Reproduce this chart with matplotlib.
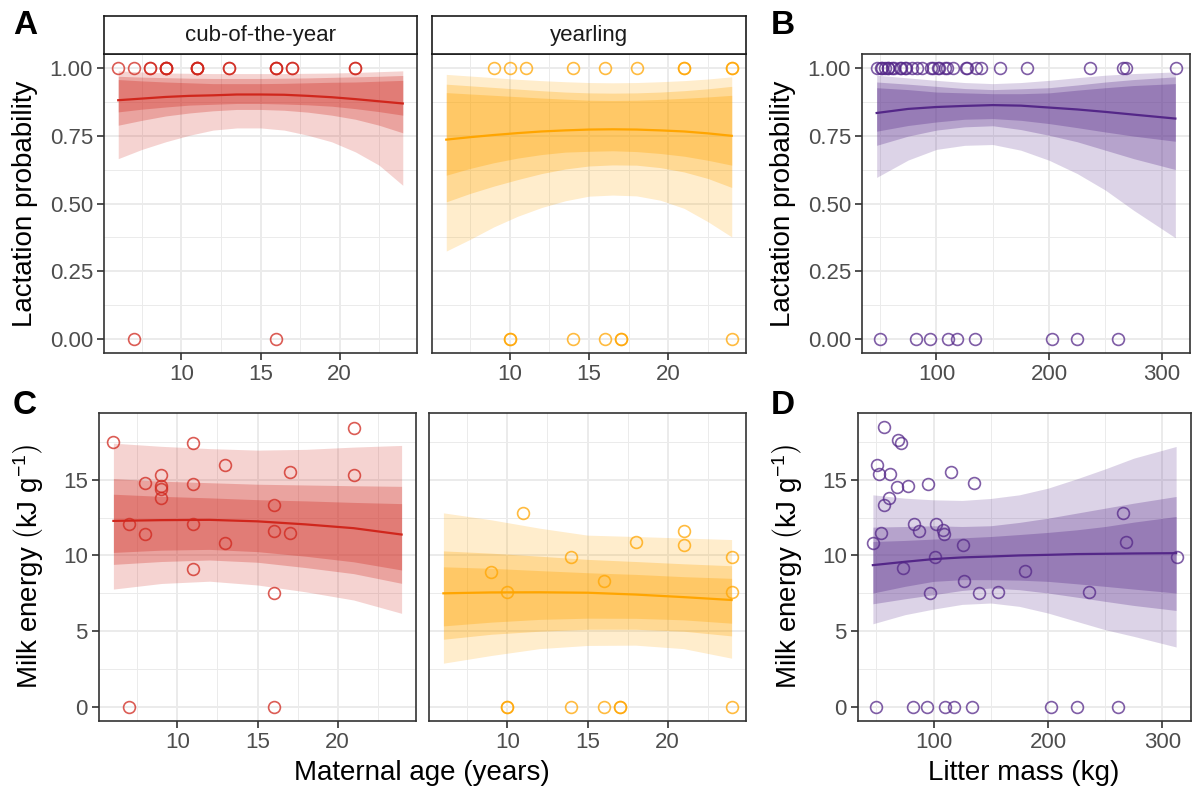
import numpy as np
import matplotlib
matplotlib.use('Agg')
import matplotlib.pyplot as plt

plt.rcParams['font.family'] = ['Liberation Sans', 'DejaVu Sans']
plt.rcParams['mathtext.fontset'] = 'custom'
plt.rcParams['mathtext.rm'] = 'Liberation Sans'
plt.rcParams['mathtext.it'] = 'Liberation Sans:italic'
plt.rcParams['mathtext.bf'] = 'Liberation Sans:bold'

# ---- raw observations ----
# cub-of-the-year litters: lactating mothers (age, milk energy) and non-lactating ones
cub_age_pos = [6, 7, 8, 8, 9, 9, 9, 9, 11, 11, 11, 11, 13, 13, 16, 16, 16, 17, 17, 21, 21]
cub_energy = [17.5, 12.1, 14.8, 11.4, 15.3, 14.6, 14.4, 13.8, 17.4, 14.7, 12.1, 9.1,
              16.0, 10.8, 13.3, 11.6, 7.5, 15.5, 11.5, 18.4, 15.3]
cub_age_zero = [7, 16]

# yearling litters
yr_age_pos = [9, 10, 11, 14, 16, 18, 21, 21, 24, 24]
yr_energy = [8.9, 7.6, 12.8, 9.9, 8.3, 10.9, 11.6, 10.7, 9.9, 7.6]
yr_age_zero = [10, 10, 14, 16, 17, 17, 24]

# litter mass (kg)
mass_pos = [47, 51, 52, 54, 57, 57, 61, 62, 68, 69, 72, 73, 78, 83, 87, 95,
            97, 101, 102, 108, 109, 115, 126, 127, 135, 140, 156, 180, 236, 266, 268, 313]
mass_energy = [10.8, 16.0, 15.4, 11.5, 13.3, 18.5, 13.8, 15.4, 14.5, 17.6, 17.4, 9.2,
               14.6, 12.1, 11.6, 14.7, 7.5, 9.9, 12.1, 11.7, 11.4, 15.5, 10.7, 8.3,
               14.8, 7.5, 7.6, 9.0, 7.6, 12.8, 10.9, 9.9]
mass_zero = [50, 82, 94, 110, 118, 134, 203, 225, 261]

# ---- model fits (median, 95/80/50 % intervals) ----
age_grid_p = [6, 7.5, 9, 10.5, 12, 13.5, 15, 16.5, 18, 19.5, 21, 22.5, 24]

cub_p_fit = [0.880, 0.886, 0.892, 0.896, 0.898, 0.901, 0.901, 0.900, 0.896, 0.891, 0.884, 0.876, 0.868]
cub_p_lo95 = [0.665, 0.699, 0.727, 0.751, 0.770, 0.778, 0.778, 0.770, 0.751, 0.727, 0.690, 0.641, 0.567]
cub_p_hi95 = [0.988, 0.984, 0.980, 0.979, 0.978, 0.978, 0.978, 0.978, 0.979, 0.980, 0.982, 0.985, 0.988]
cub_p_lo80 = [0.788, 0.806, 0.822, 0.833, 0.841, 0.846, 0.846, 0.843, 0.836, 0.825, 0.810, 0.788, 0.760]
cub_p_hi80 = [0.968, 0.965, 0.963, 0.961, 0.960, 0.960, 0.960, 0.961, 0.962, 0.964, 0.966, 0.968, 0.971]
cub_p_lo50 = [0.837, 0.847, 0.855, 0.862, 0.865, 0.868, 0.868, 0.866, 0.863, 0.858, 0.849, 0.838, 0.825]
cub_p_hi50 = [0.956, 0.951, 0.947, 0.944, 0.941, 0.941, 0.941, 0.942, 0.944, 0.946, 0.947, 0.950, 0.953]

yr_p_fit = [0.735, 0.744, 0.752, 0.759, 0.765, 0.769, 0.772, 0.773, 0.772, 0.769, 0.765, 0.758, 0.749]
yr_p_lo95 = [0.325, 0.368, 0.414, 0.453, 0.485, 0.510, 0.527, 0.531, 0.528, 0.512, 0.482, 0.433, 0.377]
yr_p_hi95 = [0.975, 0.969, 0.963, 0.957, 0.952, 0.948, 0.945, 0.944, 0.945, 0.948, 0.952, 0.958, 0.966]
yr_p_lo80 = [0.506, 0.537, 0.564, 0.588, 0.610, 0.627, 0.638, 0.642, 0.641, 0.632, 0.616, 0.592, 0.559]
yr_p_hi80 = [0.939, 0.933, 0.927, 0.921, 0.915, 0.910, 0.907, 0.906, 0.907, 0.910, 0.915, 0.922, 0.931]
yr_p_lo50 = [0.604, 0.629, 0.650, 0.667, 0.680, 0.689, 0.692, 0.694, 0.691, 0.684, 0.674, 0.659, 0.641]
yr_p_hi50 = [0.908, 0.903, 0.898, 0.893, 0.888, 0.884, 0.880, 0.879, 0.880, 0.883, 0.887, 0.892, 0.898]

age_grid_e = [6, 9, 12, 15, 18, 21, 24]

cub_e_fit = [12.28, 12.33, 12.35, 12.25, 12.05, 11.80, 11.38]
cub_e_lo95 = [7.78, 8.15, 8.30, 8.05, 7.60, 7.06, 6.18]
cub_e_hi95 = [17.41, 17.20, 17.05, 16.95, 17.00, 17.15, 17.26]
cub_e_lo80 = [9.41, 9.60, 9.70, 9.55, 9.20, 8.80, 8.16]
cub_e_hi80 = [15.07, 14.90, 14.80, 14.70, 14.65, 14.60, 14.56]
cub_e_lo50 = [10.20, 10.35, 10.40, 10.25, 9.95, 9.58, 9.04]
cub_e_hi50 = [14.04, 13.90, 13.80, 13.68, 13.60, 13.50, 13.42]

yr_e_fit = [7.50, 7.56, 7.57, 7.54, 7.42, 7.25, 7.06]
yr_e_lo95 = [2.89, 3.40, 3.85, 4.06, 4.08, 3.85, 3.22]
yr_e_hi95 = [12.81, 12.35, 11.80, 11.34, 11.25, 11.15, 11.05]
yr_e_lo80 = [4.47, 4.80, 5.00, 5.13, 5.13, 5.00, 4.69]
yr_e_hi80 = [10.30, 10.15, 9.95, 9.74, 9.60, 9.45, 9.32]
yr_e_lo50 = [5.35, 5.60, 5.78, 5.86, 5.85, 5.75, 5.53]
yr_e_hi50 = [9.25, 9.15, 9.00, 8.86, 8.75, 8.60, 8.49]

mass_grid = [47, 75, 100, 125, 150, 175, 200, 225, 250, 275, 312]

mass_p_fit = [0.833, 0.848, 0.855, 0.859, 0.862, 0.860, 0.853, 0.846, 0.837, 0.827, 0.8125]
mass_p_lo95 = [0.596, 0.660, 0.699, 0.714, 0.717, 0.696, 0.659, 0.610, 0.549, 0.475, 0.374]
mass_p_hi95 = [0.972, 0.962, 0.953, 0.945, 0.941, 0.945, 0.953, 0.963, 0.972, 0.978, 0.984]
mass_p_lo80 = [0.714, 0.748, 0.770, 0.782, 0.786, 0.772, 0.751, 0.727, 0.696, 0.665, 0.625]
mass_p_hi80 = [0.947, 0.939, 0.931, 0.923, 0.919, 0.922, 0.926, 0.936, 0.947, 0.956, 0.966]
mass_p_lo50 = [0.766, 0.787, 0.800, 0.810, 0.8125, 0.806, 0.794, 0.779, 0.763, 0.748, 0.729]
mass_p_hi50 = [0.926, 0.919, 0.910, 0.907, 0.904, 0.904, 0.907, 0.917, 0.926, 0.934, 0.941]

mass_e_fit = [9.36, 9.58, 9.76, 9.87, 9.93, 10.00, 10.04, 10.09, 10.11, 10.13, 10.15]
mass_e_lo95 = [5.49, 6.09, 6.46, 6.77, 6.86, 6.64, 6.20, 5.65, 5.10, 4.66, 3.96]
mass_e_hi95 = [14.00, 13.78, 13.67, 13.63, 13.76, 14.00, 14.44, 15.05, 15.71, 16.42, 17.19]
mass_e_lo80 = [6.81, 7.14, 7.41, 7.69, 7.85, 7.74, 7.52, 7.25, 6.97, 6.70, 6.37]
mass_e_hi80 = [11.87, 11.91, 11.96, 11.91, 11.96, 12.18, 12.46, 12.79, 13.12, 13.45, 13.89]
mass_e_lo50 = [7.52, 7.96, 8.29, 8.40, 8.40, 8.37, 8.29, 8.13, 7.96, 7.78, 7.52]
mass_e_hi50 = [10.92, 10.99, 11.08, 11.16, 11.25, 11.38, 11.52, 11.69, 11.91, 12.20, 12.57]

RED = '#D0261C'
ORANGE = '#FFA500'
PURPLE = '#542788'

W, H = 1196, 792
fig = plt.figure(figsize=(W / 100, H / 100), dpi=100)


def box(l, t, r, b):
    """pixel box (from top-left) -> figure fraction rect"""
    return [l / W, 1 - b / H, (r - l) / W, (b - t) / H]


def style(ax, xkind, ykind, show_y=True):
    if xkind == 'age':
        ax.set_xlim(5.1, 24.9)
        ax.set_xticks([10, 15, 20])
        ax.set_xticks([7.5, 12.5, 17.5, 22.5], minor=True)
    else:
        ax.set_xlim(34, 325)
        ax.set_xticks([100, 200, 300])
        ax.set_xticks([50, 150, 250], minor=True)
    if ykind == 'p':
        ax.set_ylim(-0.05, 1.05)
        ax.set_yticks([0, 0.25, 0.5, 0.75, 1.0])
        ax.set_yticklabels(['0.00', '0.25', '0.50', '0.75', '1.00'])
        ax.set_yticks([0.125, 0.375, 0.625, 0.875], minor=True)
    else:
        ax.set_ylim(-0.925, 19.4)
        ax.set_yticks([0, 5, 10, 15])
        ax.set_yticks([2.5, 7.5, 12.5, 17.5], minor=True)
    ax.grid(which='major', color='#EBEBEB', lw=1.4)
    ax.grid(which='minor', color='#EBEBEB', lw=0.7)
    ax.set_axisbelow(True)
    for s in ax.spines.values():
        s.set_color('#333333')
        s.set_linewidth(1.2)
    ax.tick_params(which='major', length=5, width=1.2, color='#333333',
                   labelsize=16, labelcolor='#4D4D4D', pad=3)
    ax.tick_params(which='minor', length=0)
    if not show_y:
        ax.tick_params(axis='y', which='both', left=False, labelleft=False)


def draw(ax, gx, fit, lo95, hi95, lo80, hi80, lo50, hi50, col, xs, ys):
    ax.fill_between(gx, lo95, hi95, color=col, alpha=0.2, lw=0)
    ax.fill_between(gx, lo80, hi80, color=col, alpha=0.275, lw=0)
    ax.fill_between(gx, lo50, hi50, color=col, alpha=0.31, lw=0)
    ax.plot(gx, fit, color=col, lw=1.6)
    ax.plot(xs, ys, 'o', mfc='none', mec=col, mew=1.2, ms=8.5, alpha=0.75, clip_on=False)


# top row: lactation probability
axA = fig.add_axes(box(104, 54, 417, 353))
draw(axA, age_grid_p, cub_p_fit, cub_p_lo95, cub_p_hi95, cub_p_lo80, cub_p_hi80,
     cub_p_lo50, cub_p_hi50, RED,
     cub_age_pos + cub_age_zero, [1] * len(cub_age_pos) + [0] * len(cub_age_zero))
style(axA, 'age', 'p')

axA2 = fig.add_axes(box(432, 54, 746, 353))
draw(axA2, age_grid_p, yr_p_fit, yr_p_lo95, yr_p_hi95, yr_p_lo80, yr_p_hi80,
     yr_p_lo50, yr_p_hi50, ORANGE,
     yr_age_pos + yr_age_zero, [1] * len(yr_age_pos) + [0] * len(yr_age_zero))
style(axA2, 'age', 'p', show_y=False)

axB = fig.add_axes(box(862, 54, 1190, 353))
draw(axB, mass_grid, mass_p_fit, mass_p_lo95, mass_p_hi95, mass_p_lo80, mass_p_hi80,
     mass_p_lo50, mass_p_hi50, PURPLE,
     mass_pos + mass_zero, [1] * len(mass_pos) + [0] * len(mass_zero))
style(axB, 'mass', 'p')

# bottom row: milk energy
axC = fig.add_axes(box(99, 413, 416, 721))
draw(axC, age_grid_e, cub_e_fit, cub_e_lo95, cub_e_hi95, cub_e_lo80, cub_e_hi80,
     cub_e_lo50, cub_e_hi50, RED,
     cub_age_pos + cub_age_zero, cub_energy + [0] * len(cub_age_zero))
style(axC, 'age', 'e')

axC2 = fig.add_axes(box(429, 413, 746, 721))
draw(axC2, age_grid_e, yr_e_fit, yr_e_lo95, yr_e_hi95, yr_e_lo80, yr_e_hi80,
     yr_e_lo50, yr_e_hi50, ORANGE,
     yr_age_pos + yr_age_zero, yr_energy + [0] * len(yr_age_zero))
style(axC2, 'age', 'e', show_y=False)

axD = fig.add_axes(box(858, 413, 1191, 721))
draw(axD, mass_grid, mass_e_fit, mass_e_lo95, mass_e_hi95, mass_e_lo80, mass_e_hi80,
     mass_e_lo50, mass_e_hi50, PURPLE,
     mass_pos + mass_zero, mass_energy + [0] * len(mass_zero))
style(axD, 'mass', 'e')

# facet strips
for (l, r), lab in zip([(104, 417), (432, 746)], ['cub-of-the-year', 'yearling']):
    s = fig.add_axes(box(l, 16, r, 54))
    s.set_xticks([])
    s.set_yticks([])
    s.set_facecolor('white')
    for sp in s.spines.values():
        sp.set_color('#1A1A1A')
        sp.set_linewidth(1.2)
    s.text(0.5, 0.5, lab, ha='center', va='center', fontsize=16, color='#1A1A1A',
           transform=s.transAxes)

# axis titles
ylab_p = 'Lactation probability'
ylab_e = r'Milk energy $\left(\mathrm{kJ\ g^{-1}}\right)$'
fig.text(25 / W, 1 - 203.5 / H, ylab_p, rotation=90, ha='center', va='center', fontsize=20)
fig.text(783 / W, 1 - 203.5 / H, ylab_p, rotation=90, ha='center', va='center', fontsize=20)
fig.text(28 / W, 1 - 567 / H, ylab_e, rotation=90, ha='center', va='center', fontsize=20)
fig.text(787 / W, 1 - 567 / H, ylab_e, rotation=90, ha='center', va='center', fontsize=20)
fig.text(422 / W, 1 - 773 / H, 'Maternal age (years)', ha='center', va='center', fontsize=20)
fig.text(1024 / W, 1 - 773 / H, 'Litter mass (kg)', ha='center', va='center', fontsize=20)

# panel tags
for x, y, t in [(25, 25, 'A'), (783, 25, 'B'), (25, 406, 'C'), (783, 406, 'D')]:
    fig.text(x / W, 1 - y / H, t, ha='center', va='center', fontsize=24, fontweight='bold')

fig.savefig('out.png', dpi=100)
